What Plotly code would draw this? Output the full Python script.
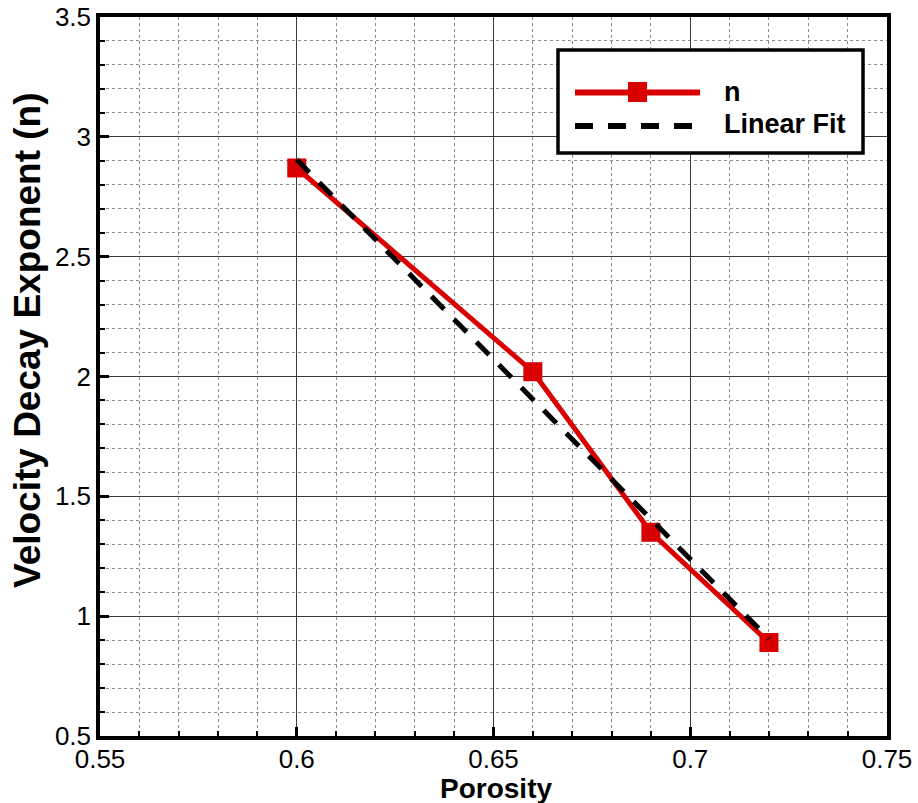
import plotly.graph_objects as go

# Measured velocity decay exponent against porosity
porosity = [0.60, 0.66, 0.69, 0.72]
decay_exponent = [2.87, 2.02, 1.35, 0.89]

# Straight-line fit through the measurements (end points)
fit_porosity = [0.60, 0.72]
fit_exponent = [2.905, 0.905]

series_name = "n"
fit_name = "Linear Fit"
x_title = "Porosity"
y_title = "Velocity Decay Exponent (n)"

RED = "#d80000"
FONT = "Liberation Sans, Arial, Helvetica, sans-serif"

W, H = 918, 803
ML, MR, MT, MB = 100, 31, 17, 67
PW, PH = W - ML - MR, H - MT - MB


def px_x(px):
    return (px - ML) / PW


def px_y(py):
    return (H - MB - py) / PH


fig = go.Figure()

fig.add_trace(go.Scatter(
    x=porosity, y=decay_exponent, mode="lines+markers", name=series_name,
    line=dict(color=RED, width=5),
    marker=dict(symbol="square", size=19, color=RED),
    showlegend=False,
))
fig.add_trace(go.Scatter(
    x=fit_porosity, y=fit_exponent, mode="lines", name=fit_name,
    line=dict(color="black", width=5, dash="18px,14px"),
    showlegend=False,
))

axis_common = dict(
    showline=True, linecolor="black", linewidth=3.5, mirror=True,
    ticks="inside", ticklen=9, tickwidth=3, tickcolor="black",
    showgrid=True, gridcolor="#3a3a3a", gridwidth=1,
    zeroline=False,
    tickfont=dict(family=FONT, size=26, color="black"),
)

fig.update_xaxes(
    range=[0.55, 0.75], dtick=0.05, tick0=0.55, ticklabelstandoff=-3,
    minor=dict(dtick=0.01, ticks="inside", ticklen=5, tickwidth=2,
               tickcolor="black", showgrid=True, gridcolor="#8a8a8a",
               gridwidth=1, griddash="dot"),
    **axis_common,
)
fig.update_yaxes(
    range=[0.5, 3.5], dtick=0.5, tick0=0.5,
    minor=dict(dtick=0.1, ticks="inside", ticklen=5, tickwidth=2,
               tickcolor="black", showgrid=True, gridcolor="#8a8a8a",
               gridwidth=1, griddash="dot"),
    **axis_common,
)

# Legend panel drawn in paper space
shapes = [
    dict(type="rect", xref="paper", yref="paper",
         x0=px_x(558), x1=px_x(863), y0=px_y(153), y1=px_y(50),
         line=dict(color="black", width=3.5), fillcolor="white", layer="above"),
    dict(type="line", xref="paper", yref="paper",
         x0=px_x(575), x1=px_x(700), y0=px_y(92.5), y1=px_y(92.5),
         line=dict(color=RED, width=6), layer="above"),
    dict(type="rect", xref="paper", yref="paper",
         x0=px_x(628), x1=px_x(647), y0=px_y(102), y1=px_y(82),
         line=dict(width=0), fillcolor=RED, layer="above"),
    dict(type="line", xref="paper", yref="paper",
         x0=px_x(575), x1=px_x(694), y0=px_y(126), y1=px_y(126),
         line=dict(color="black", width=6, dash="18px,15px"), layer="above"),
]
annotations = [
    dict(xref="paper", yref="paper", x=px_x(722), y=px_y(92),
         text="<b>" + series_name + "</b>", showarrow=False,
         xanchor="left", yanchor="middle",
         font=dict(family=FONT, size=27, color="black")),
    dict(xref="paper", yref="paper", x=px_x(722), y=px_y(124),
         text="<b>" + fit_name + "</b>", showarrow=False, xanchor="left",
         yanchor="middle", font=dict(family=FONT, size=27, color="black")),
    # axis titles
    dict(xref="paper", yref="paper", x=px_x(496), y=px_y(788),
         text="<b>" + x_title + "</b>", showarrow=False,
         xanchor="center", yanchor="middle",
         font=dict(family=FONT, size=28, color="black")),
    dict(xref="paper", yref="paper", x=px_x(27), y=px_y(340),
         text="<b>" + y_title + "</b>", showarrow=False, textangle=-90,
         xanchor="center", yanchor="middle",
         font=dict(family=FONT, size=37, color="black")),
]

fig.update_layout(
    width=W, height=H,
    margin=dict(l=ML, r=MR, t=MT, b=MB, autoexpand=False),
    paper_bgcolor="white", plot_bgcolor="white",
    shapes=shapes, annotations=annotations,
    showlegend=False,
)

fig.write_html("out.html")
